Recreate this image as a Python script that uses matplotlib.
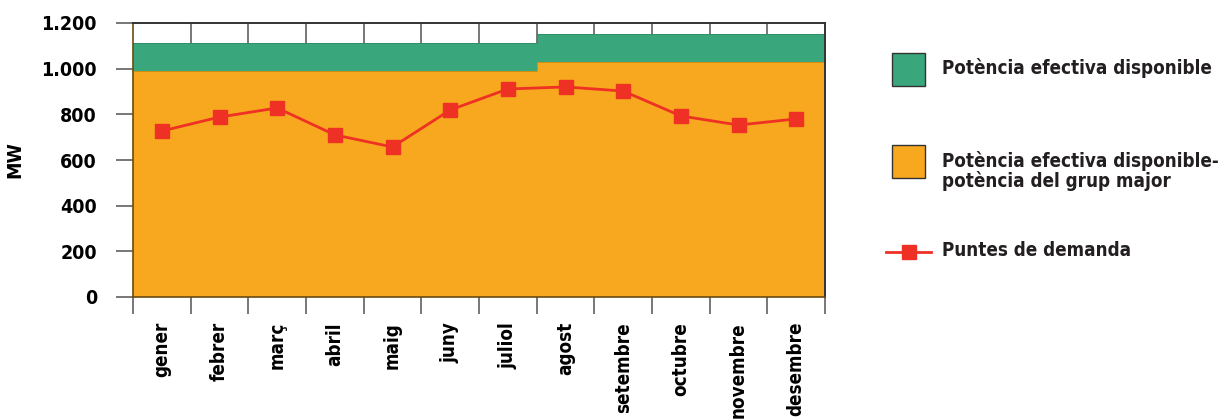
import matplotlib
matplotlib.use("Agg")
import matplotlib.pyplot as plt
import numpy as np
from matplotlib.patches import Rectangle
from matplotlib.lines import Line2D

months = ["gener", "febrer", "març", "abril", "maig", "juny", "juliol",
          "agost", "setembre", "octubre", "novembre", "desembre"]
# MW values
pot_menys_major = [990, 990, 990, 990, 990, 990, 990, 1028, 1028, 1028, 1028, 1028]
pot_disponible = [1111, 1111, 1111, 1111, 1111, 1111, 1111, 1150, 1150, 1150, 1150, 1150]
puntes = [727, 788, 828, 710, 657, 819, 911, 920, 902, 793, 753, 780]

green = "#3aa67c"
orange = "#f8a81e"
red = "#ee3124"

plt.rcParams["font.family"] = ["DejaVu Sans"]
plt.rcParams["font.stretch"] = "condensed"
plt.rcParams["font.weight"] = "bold"

fig = plt.figure(figsize=(12.28, 4.19), dpi=100)
ax = fig.add_axes([133 / 1228, 1 - 297 / 419, (825 - 133) / 1228, (297 - 23) / 419])

n = len(months)
edges = np.arange(n + 1)
centers = np.arange(n) + 0.5
orange_step = pot_menys_major + [pot_menys_major[-1]]
green_step = pot_disponible + [pot_disponible[-1]]

ax.fill_between(edges, 0, orange_step, step="post", color=orange, lw=0, zorder=2)
ax.fill_between(edges, orange_step, green_step, step="post", color=green, lw=0, zorder=2)
ax.step(edges, green_step, where="post", color="#2f8a66", lw=0.6, zorder=2)
ax.step(edges, orange_step, where="post", color="#c98a10", lw=0.6, zorder=2)

ax.plot(centers, puntes, color=red, lw=2, marker="s", markersize=9.5, zorder=4)

ax.set_xlim(0, n)
ax.set_ylim(0, 1200)

# month boundaries as grid lines
for x in edges[1:-1]:
    ax.axvline(x, color="#777777", lw=1.4, zorder=1)

ax.set_xticks(edges)
ax.set_xticklabels([])
ax.set_xticks(centers, minor=True)
ax.set_xticklabels(months, minor=True, rotation=90, fontsize=13.5, fontweight="bold")
ax.tick_params(axis="x", which="major", length=12, width=1.4, color="#777777", direction="out")
ax.tick_params(axis="x", which="minor", length=0, pad=18)

ax.set_yticks([0, 200, 400, 600, 800, 1000, 1200])
ax.set_yticklabels(["0", "200", "400", "600", "800", "1.000", "1.200"], fontsize=14, fontweight="bold")
ax.tick_params(axis="y", length=12, width=1.4, color="#777777", direction="out", pad=14)
ax.set_ylabel("MW", fontsize=14, fontweight="bold", labelpad=12)

for s in ["top", "right"]:
    ax.spines[s].set_color("#333333")
    ax.spines[s].set_linewidth(1.4)
ax.spines["left"].set_color("#6b4a10")
ax.spines["bottom"].set_color("#6b4a10")
ax.spines["left"].set_linewidth(1.2)
ax.spines["bottom"].set_linewidth(1.2)
for s in ax.spines.values():
    s.set_zorder(5)

# legend drawn in figure pixels
W, H = 1228, 419
def fx(x):
    return x / W
def fy(y):
    return 1 - y / H

fs_leg = 13.5
fig.add_artist(Rectangle((fx(892), fy(86)), 33 / W, 33 / H, facecolor=green,
                         edgecolor="#333333", lw=1, transform=fig.transFigure))
fig.text(fx(942), fy(68), "Potència efectiva disponible", fontsize=fs_leg,
         fontweight="bold", va="center", ha="left", color="#231f20")
fig.add_artist(Rectangle((fx(892), fy(178)), 33 / W, 33 / H, facecolor=orange,
                         edgecolor="#333333", lw=1, transform=fig.transFigure))
fig.text(fx(942), fy(171), "Potència efectiva disponible-\npotència del grup major",
         fontsize=fs_leg, fontweight="bold", va="center", ha="left", color="#231f20",
         linespacing=1.0)
fig.add_artist(Line2D([fx(886), fx(931)], [fy(252), fy(252)], color=red, lw=2,
                      transform=fig.transFigure))
fig.add_artist(Line2D([fx(908.5)], [fy(252)], color=red, marker="s", markersize=9.5,
                      transform=fig.transFigure))
fig.text(fx(942), fy(251), "Puntes de demanda", fontsize=fs_leg, fontweight="bold",
         va="center", ha="left", color="#231f20")

fig.savefig("out.png", dpi=100)
